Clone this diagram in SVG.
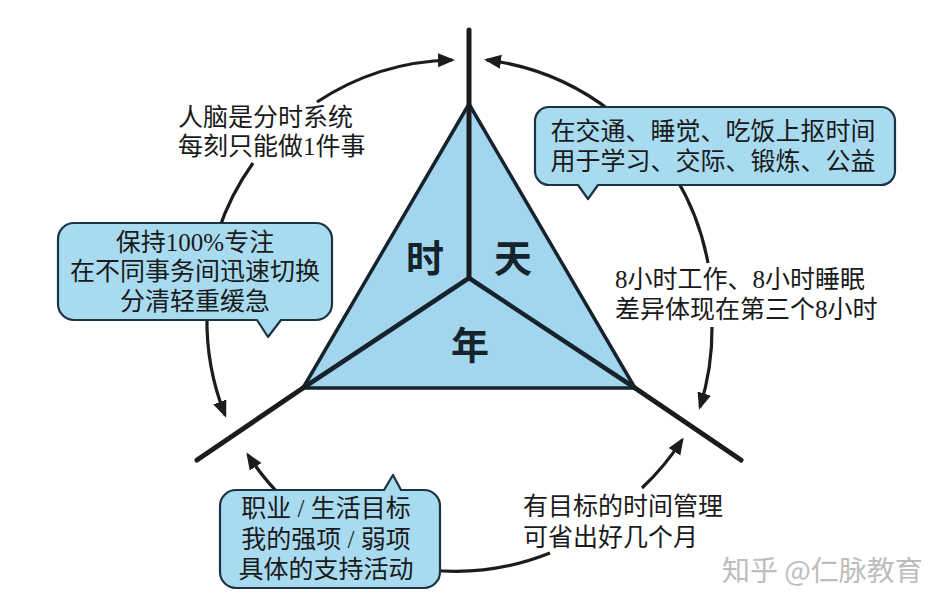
<svg xmlns="http://www.w3.org/2000/svg" width="948" height="607" viewBox="0 0 948 607">
<style>
.arc{fill:none;stroke:#1c1c1c;stroke-width:3.2}
.axis{fill:none;stroke:#1c1c1c;stroke-width:5;stroke-linecap:round}
.tri{fill:#a3d6ee;stroke:#14232c;stroke-width:3.5;stroke-linejoin:round}
.inner{stroke:#14232c;stroke-width:4.5;stroke-linecap:round}
.bub{fill:#a8daf0;stroke:#1b3442;stroke-width:2.2;stroke-linejoin:round}
.t{font-family:"Liberation Serif","Noto Sans CJK SC",serif;font-size:25px;fill:#1a1a1a}
.c{text-anchor:middle}
.big{font-family:"Noto Sans CJK SC",serif;font-size:38px;font-weight:bold;fill:#14232c;text-anchor:middle}
.wm{font-family:"Noto Sans CJK SC","Liberation Sans",sans-serif;font-size:28px;fill:#bdbdbd}
</style>
<defs>
<marker id="ah" markerUnits="userSpaceOnUse" markerWidth="20" markerHeight="16" refX="14" refY="7" orient="auto">
<path d="M0,0 L17,7 L0,14 z" fill="#1c1c1c"/>
</marker>
</defs>
<rect width="948" height="607" fill="#ffffff"/>
<g id="connectors">
<path class="arc" d="M317,102 A255,255 0 0 1 452,60" marker-end="url(#ah)"/>
<path class="arc" d="M253,163 A255,255 0 0 0 218,232"/>
<path class="arc" d="M207,315 A255,255 0 0 0 225,415" marker-end="url(#ah)"/>
<path class="arc" d="M612,112 A255,255 0 0 0 487,60" marker-end="url(#ah)"/>
<path class="arc" d="M676,178 A255,255 0 0 1 708,263"/>
<path class="arc" d="M712,327 A255,255 0 0 1 700,407" marker-end="url(#ah)"/>
<path class="arc" d="M642,488 A255,255 0 0 0 682,440" marker-end="url(#ah)"/>
<path class="arc" d="M550,553 A255,255 0 0 1 430,570"/>
<path class="arc" d="M285,500 A255,255 0 0 1 248,455" marker-end="url(#ah)"/>
</g>
<g id="triangle">
<polygon class="tri" points="469,104 303,388 635,388"/>
<line class="inner" x1="469" y1="278" x2="303" y2="388"/>
<line class="inner" x1="469" y1="278" x2="635" y2="388"/>
<line class="axis" x1="469" y1="30" x2="469" y2="278"/>
<line class="axis" x1="303" y1="388" x2="197" y2="460"/>
<line class="axis" x1="635" y1="388" x2="741" y2="460"/>
<text class="big" x="425" y="272">时</text>
<text class="big" x="513" y="272">天</text>
<text class="big" x="470" y="359">年</text>
</g>
<g id="note-brain">
<text class="t" x="178" y="126">人脑是分时系统</text>
<text class="t" x="178" y="155">每刻只能做1件事</text>
</g>
<g id="bubble-focus">
<path class="bub" d="M74,223 H316 A16,16 0 0 1 332,239 V304 A16,16 0 0 1 316,320 H281 L268,337 L257,320 H74 A16,16 0 0 1 58,304 V239 A16,16 0 0 1 74,223 Z"/>
<text class="t c" x="195" y="251">保持100%专注</text>
<text class="t c" x="195" y="280">在不同事务间迅速切换</text>
<text class="t c" x="195" y="310">分清轻重缓急</text>
</g>
<g id="bubble-daily">
<path class="bub" d="M549,107 H881 A14,14 0 0 1 895,121 V171 A14,14 0 0 1 881,185 H598 L588,199 L578,185 H549 A14,14 0 0 1 535,171 V121 A14,14 0 0 1 549,107 Z"/>
<text class="t c" x="713" y="140">在交通、睡觉、吃饭上抠时间</text>
<text class="t c" x="713" y="170">用于学习、交际、锻炼、公益</text>
</g>
<g id="note-eight">
<text class="t" x="615" y="288">8小时工作、8小时睡眠</text>
<text class="t" x="615" y="318">差异体现在第三个8小时</text>
</g>
<g id="note-year">
<text class="t" x="523" y="515">有目标的时间管理</text>
<text class="t" x="523" y="546">可省出好几个月</text>
</g>
<g id="bubble-goals">
<path class="bub" d="M236,490 H384 L393,475 L401,490 H424 A16,16 0 0 1 440,506 V572 A16,16 0 0 1 424,588 H236 A16,16 0 0 1 220,572 V506 A16,16 0 0 1 236,490 Z"/>
<text class="t c" x="326" y="517">职业 / 生活目标</text>
<text class="t c" x="326" y="548">我的强项 / 弱项</text>
<text class="t c" x="326" y="578">具体的支持活动</text>
</g>
<text class="wm" x="722" y="581">知乎 @仁脉教育</text>
</svg>
